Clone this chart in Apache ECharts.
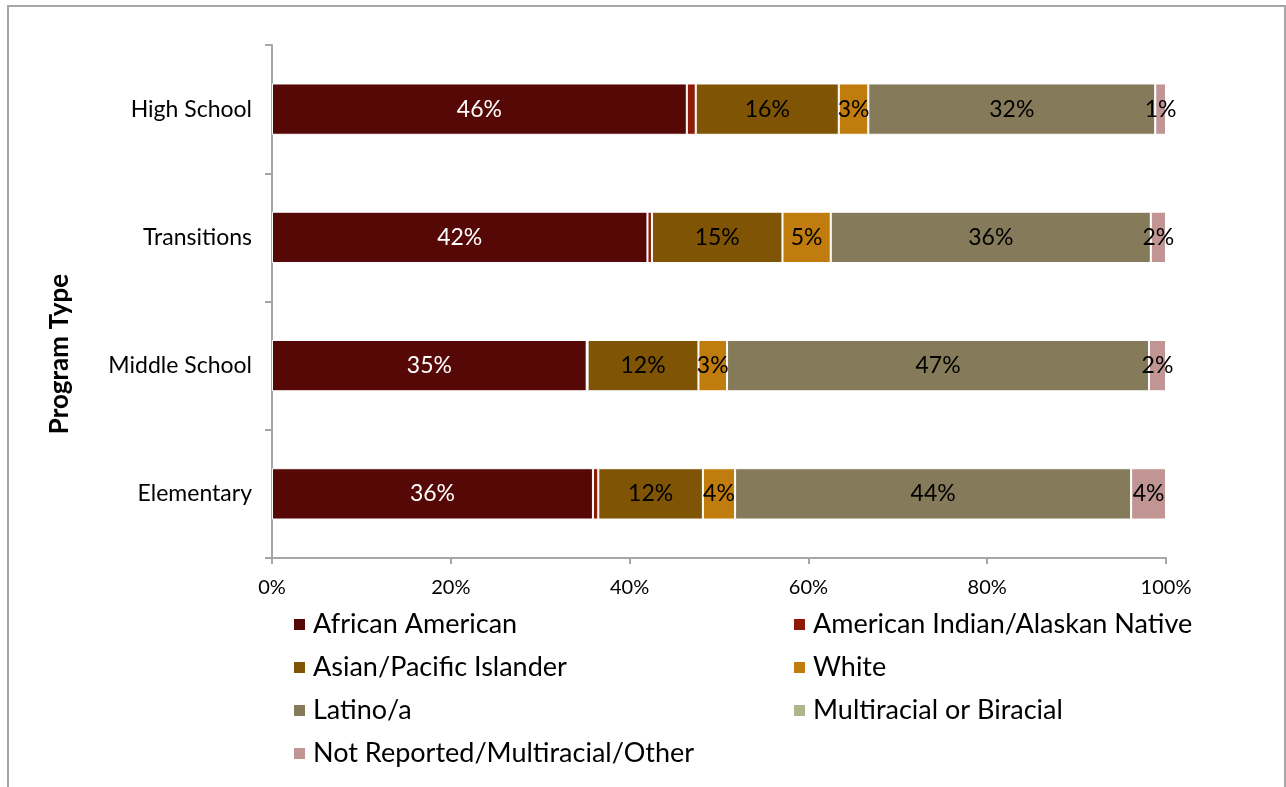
<!DOCTYPE html>
<html>
<head>
<meta charset="utf-8">
<script src="https://cdn.jsdelivr.net/npm/echarts@6/dist/echarts.min.js"></script>
<style>
  html, body { margin: 0; padding: 0; background: #fff; }
  #chart { width: 1286px; height: 787px; }
</style>
</head>
<body>
<div id="chart"></div>
<script>
// Program types, bottom to top
const programs = ['Elementary', 'Middle School', 'Transitions', 'High School'];

// Share of students (%) by race/ethnicity for each program type
const africanAmerican = [35.9, 35.2, 42.0, 46.4];
const americanIndian  = [0.6, 0.1, 0.5, 1.0];
const asianPacific    = [11.7, 12.4, 14.6, 16.0];
const white           = [3.6, 3.2, 5.4, 3.3];
const latino          = [44.3, 47.2, 35.8, 32.1];
const multiracial     = [0, 0, 0, 0];
const notReported     = [3.9, 1.9, 1.7, 1.2];

const xTicks = [0, 20, 40, 60, 80, 100];

const FONT = 'Lato';

function seriesOf(name, data, color, labelColor) {
  return {
    name: name,
    type: 'bar',
    stack: 'total',
    barWidth: '40%',
    data: data,
    itemStyle: { color: color, borderColor: '#ffffff', borderWidth: 1 },
    label: {
      show: !!labelColor,
      position: 'inside',
      color: labelColor || '#000',
      fontFamily: FONT,
      fontSize: 23,
      formatter: p => Math.round(p.value) + '%'
    },
    emphasis: { disabled: true }
  };
}

const legendText = { color: '#000', fontFamily: FONT, fontSize: 27, padding: [0, 0, 0, 2] };

const chart = echarts.init(document.getElementById('chart'));
chart.setOption({
  animation: false,
  backgroundColor: '#ffffff',
  graphic: [{
    type: 'rect',
    shape: { x: 8, y: 6, width: 1277, height: 800 },
    style: { fill: 'none', stroke: '#a6a6a6', lineWidth: 2 },
    silent: true
  }, {
    // vertical axis title
    type: 'text',
    x: 60,
    y: 354,
    rotation: Math.PI / 2,
    style: {
      text: 'Program Type',
      fill: '#000',
      font: 'bold 26px ' + FONT,
      align: 'center',
      verticalAlign: 'middle'
    },
    silent: true
  }],
  grid: { left: 272, right: 120, top: 45, bottom: 229, containLabel: false },
  xAxis: {
    type: 'value',
    min: xTicks[0],
    max: xTicks[xTicks.length - 1],
    interval: xTicks[1] - xTicks[0],
    splitLine: { show: false },
    axisLine: { show: true, lineStyle: { color: '#a6a6a6', width: 2 } },
    axisTick: { show: true, length: 6, lineStyle: { color: '#a6a6a6', width: 2 } },
    axisLabel: { color: '#000', fontFamily: FONT, fontSize: 20, margin: 20, formatter: '{value}%' }
  },
  yAxis: {
    type: 'category',
    data: programs,
    axisLine: { show: true, lineStyle: { color: '#a6a6a6', width: 2 } },
    axisTick: { show: true, length: 7, alignWithLabel: false, lineStyle: { color: '#a6a6a6', width: 2 } },
    axisLabel: { color: '#000', fontFamily: FONT, fontSize: 23, margin: 20 }
  },
  legend: [{
    orient: 'vertical',
    left: 292,
    top: 611,
    padding: 0,
    itemWidth: 13,
    itemHeight: 13,
    itemGap: 16,
    icon: 'rect',
    textStyle: legendText,
    data: ['African American', 'Asian/Pacific Islander', 'Latino/a', 'Not Reported/Multiracial/Other']
  }, {
    orient: 'vertical',
    left: 792,
    top: 611,
    padding: 0,
    itemWidth: 13,
    itemHeight: 13,
    itemGap: 16,
    icon: 'rect',
    textStyle: legendText,
    data: ['American Indian/Alaskan Native', 'White', 'Multiracial or Biracial']
  }],
  series: [
    seriesOf('African American', africanAmerican, '#550805', '#ffffff'),
    seriesOf('American Indian/Alaskan Native', americanIndian, '#8e1a08', null),
    seriesOf('Asian/Pacific Islander', asianPacific, '#7f5505', '#000000'),
    seriesOf('White', white, '#c07d0d', '#000000'),
    seriesOf('Latino/a', latino, '#857b5a', '#000000'),
    seriesOf('Multiracial or Biracial', multiracial, '#b1b48a', null),
    seriesOf('Not Reported/Multiracial/Other', notReported, '#c09593', '#000000')
  ]
});
</script>
</body>
</html>
